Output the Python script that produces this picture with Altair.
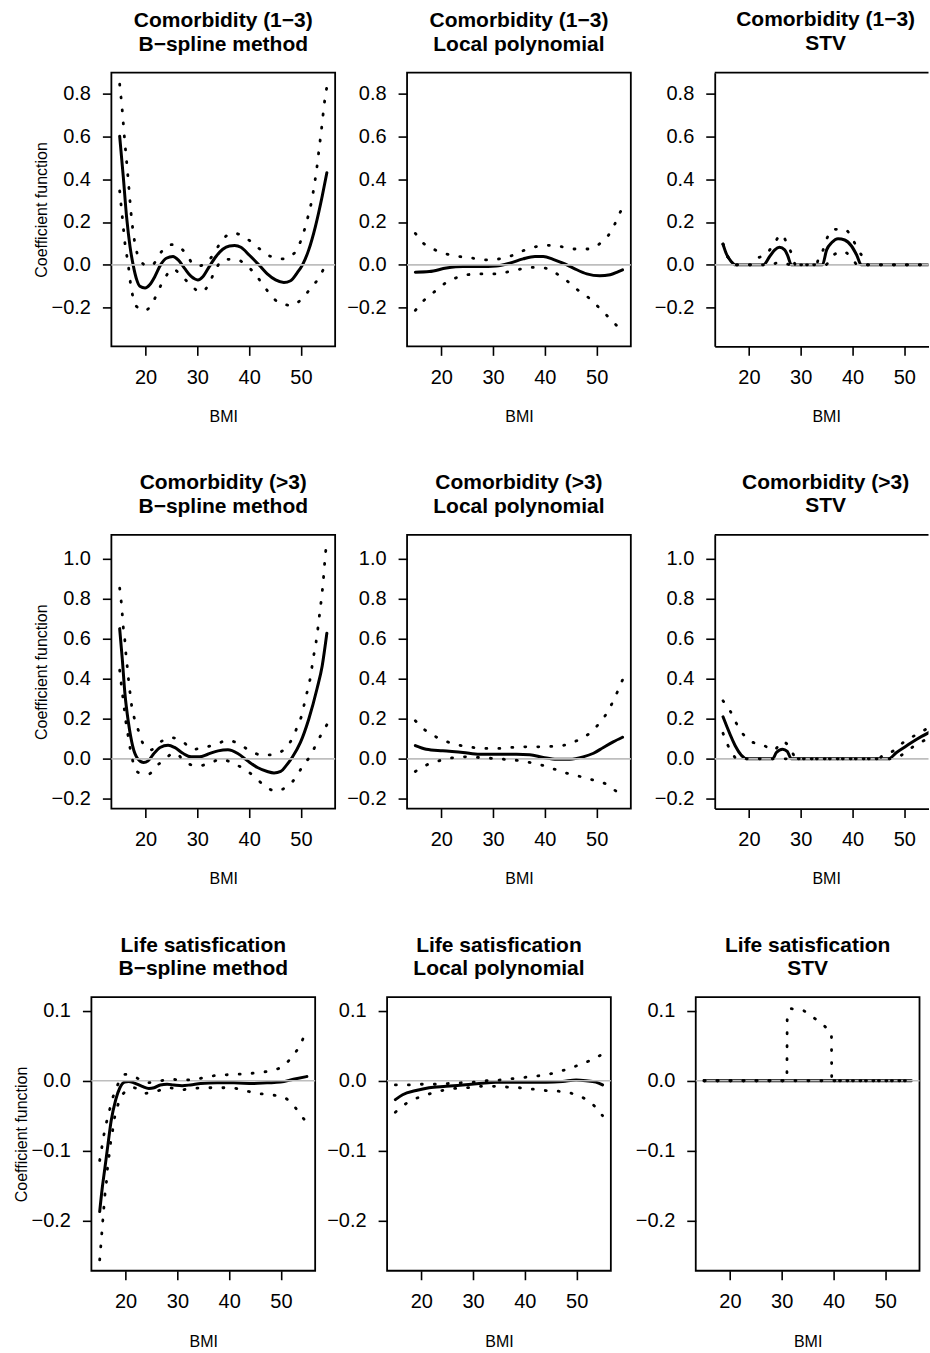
import altair as alt
import pandas as pd

FONT = "Liberation Sans"
M = "\u2212"

# ---------------- data (BMI, coefficient) ----------------
# Row 1: Comorbidity (1-3)
C13_BS_EST = [(15.0, 0.60), (15.7, 0.41), (16.35, 0.22), (17.0, 0.085), (17.6, 0.0), (18.3, -0.07), (18.9, -0.10),
              (19.9, -0.108), (20.8, -0.093), (21.8, -0.054), (22.9, 0.0), (24.0, 0.031), (25.3, 0.039), (26.3, 0.023),
              (27.5, -0.015), (28.8, -0.054), (30.1, -0.07), (31.1, -0.054), (32.3, -0.008), (33.6, 0.039),
              (34.9, 0.073), (36.2, 0.088), (37.2, 0.09), (38.4, 0.082), (40.0, 0.046), (42.0, -0.003),
              (43.5, -0.042), (45.1, -0.07), (46.7, -0.082), (48.0, -0.074), (49.3, -0.036), (50.3, 0.0),
              (51.5, 0.07), (52.8, 0.18), (54.1, 0.32), (55.0, 0.43)]
C13_BS_HI = [(15.0, 0.843), (15.5, 0.72), (15.9, 0.60), (16.35, 0.48), (16.75, 0.37), (17.2, 0.24), (17.75, 0.13),
             (18.2, 0.07), (18.8, 0.03), (19.6, 0.003), (20.5, -0.005), (21.5, 0.003), (22.6, 0.046), (24.2, 0.088),
             (25.3, 0.095), (26.4, 0.085), (28.0, 0.046), (29.3, 0.0), (30.3, -0.004), (31.4, 0.003), (33.0, 0.046),
             (34.3, 0.097), (36.0, 0.142), (37.1, 0.148), (38.1, 0.142), (40.2, 0.111), (42.1, 0.073), (44.2, 0.039),
             (46.6, 0.028), (48.7, 0.054), (49.9, 0.108), (50.7, 0.166), (51.35, 0.224), (52.0, 0.29), (52.5, 0.36),
             (53.0, 0.44), (53.5, 0.54), (54.0, 0.64), (54.5, 0.75), (55.0, 0.83)]
C13_BS_LO = [(15.0, 0.345), (15.5, 0.225), (16.0, 0.105), (16.7, -0.008), (17.0, -0.07), (17.4, -0.13), (18.1, -0.19),
             (19.9, -0.213), (21.5, -0.17), (22.6, -0.113), (23.7, -0.062), (25.3, -0.02), (26.9, -0.05),
             (28.7, -0.093), (30.6, -0.127), (32.35, -0.085), (33.3, -0.031), (35.4, 0.026), (37.3, 0.026),
             (39.4, 0.0), (41.1, -0.042), (42.6, -0.09), (44.1, -0.139), (45.9, -0.178), (48.2, -0.189),
             (50.3, -0.155), (51.9, -0.108), (53.5, -0.059), (54.6, -0.008), (55.0, 0.01)]

C13_LP_EST = [(15.0, -0.034), (17.7, -0.031), (21.0, -0.015), (24.2, -0.008), (27.4, -0.008), (30.6, -0.005),
              (33.2, 0.008), (35.8, 0.028), (38.1, 0.039), (39.7, 0.039), (41.6, 0.026), (43.5, 0.008),
              (45.5, -0.015), (48.1, -0.042), (50.6, -0.051), (52.6, -0.046), (54.2, -0.031), (55.0, -0.023)]
C13_LP_HI = [(15.0, 0.147), (16.6, 0.10), (18.8, 0.07), (21.1, 0.05), (23.5, 0.039), (26.1, 0.031), (28.6, 0.023),
             (31.2, 0.028), (33.5, 0.042), (35.9, 0.067), (38.3, 0.085), (40.7, 0.091), (43.2, 0.085), (45.7, 0.074),
             (48.2, 0.074), (50.5, 0.097), (52.3, 0.139), (53.5, 0.19), (54.6, 0.248), (55.0, 0.265)]
C13_LP_LO = [(15.0, -0.212), (16.6, -0.167), (18.6, -0.127), (20.5, -0.09), (22.7, -0.062), (25.0, -0.046),
             (27.5, -0.042), (30.1, -0.042), (32.6, -0.034), (35.2, -0.02), (37.6, -0.012), (40.0, -0.015),
             (42.4, -0.043), (44.4, -0.077), (46.3, -0.116), (48.4, -0.152), (50.2, -0.193), (51.9, -0.234),
             (53.7, -0.279), (55.0, -0.31)]

C13_STV_EST = [(15.0, 0.097), (15.6, 0.054), (16.6, 0.015), (17.4, 0.0), (22.8, 0.0), (24.0, 0.039), (25.0, 0.07),
               (25.9, 0.082), (26.9, 0.07), (27.5, 0.042), (28.2, 0.0), (34.2, 0.0), (35.0, 0.07), (36.0, 0.104),
               (37.2, 0.122), (38.5, 0.116), (39.8, 0.088), (40.8, 0.046), (41.7, 0.0), (55.0, 0.0)]
C13_STV_HI = [(15.0, 0.097), (15.6, 0.054), (16.6, 0.015), (17.4, 0.0), (20.5, 0.0), (21.4, 0.026), (23.4, 0.051),
              (24.8, 0.097), (26.3, 0.142), (27.4, 0.096), (28.4, 0.042), (29.0, 0.0), (33.0, 0.0), (33.4, 0.026),
              (34.2, 0.062), (35.0, 0.12), (36.3, 0.166), (38.5, 0.166), (40.0, 0.12), (41.1, 0.07), (42.3, 0.026),
              (43.0, 0.0), (55.0, 0.0)]
C13_STV_LO = [(15.0, 0.097), (15.6, 0.054), (16.6, 0.015), (17.4, 0.0), (24.6, 0.0), (25.2, 0.008), (26.5, 0.01),
              (27.5, 0.003), (28.0, 0.0), (34.8, 0.0), (36.1, 0.042), (38.3, 0.062), (40.1, 0.023), (41.0, 0.0),
              (55.0, 0.0)]

# Row 2: Comorbidity (>3)
C3_BS_EST = [(15.0, 0.65), (15.5, 0.50), (16.0, 0.33), (16.7, 0.18), (17.5, 0.065), (18.5, 0.0), (19.6, -0.018),
             (20.5, -0.01), (21.5, 0.023), (22.8, 0.057), (24.35, 0.068), (25.6, 0.057), (27.2, 0.028), (28.8, 0.01),
             (30.4, 0.01), (32.0, 0.023), (34.0, 0.04), (35.9, 0.045), (37.8, 0.027), (39.7, -0.01), (41.6, -0.043),
             (43.5, -0.063), (44.8, -0.07), (46.1, -0.063), (47.1, -0.035), (48.3, 0.007), (49.9, 0.082),
             (51.5, 0.198), (53.1, 0.35), (54.1, 0.464), (55.0, 0.627)]
C3_BS_HI = [(15.0, 0.852), (15.3, 0.785), (15.5, 0.722), (15.7, 0.656), (16.0, 0.592), (16.2, 0.527), (16.45, 0.464),
            (16.7, 0.398), (17.0, 0.331), (17.3, 0.268), (17.8, 0.206), (18.6, 0.143), (19.4, 0.082), (21.0, 0.045),
            (22.9, 0.085), (25.0, 0.106), (27.2, 0.085), (29.15, 0.048), (31.4, 0.057), (33.6, 0.073), (35.9, 0.093),
            (38.1, 0.073), (40.2, 0.04), (42.6, 0.018), (44.95, 0.023), (47.1, 0.057), (48.5, 0.11), (49.4, 0.168),
            (50.3, 0.231), (50.8, 0.294), (51.35, 0.35), (51.9, 0.418), (52.3, 0.49), (52.7, 0.55), (53.1, 0.614),
            (53.4, 0.68), (53.7, 0.744), (54.0, 0.81), (54.25, 0.872), (54.45, 0.935), (54.65, 1.0), (54.9, 1.067),
            (55.0, 1.09)]
C3_BS_LO = [(15.0, 0.443), (15.3, 0.376), (15.6, 0.311), (15.9, 0.248), (16.2, 0.185), (16.6, 0.12), (17.0, 0.055),
            (17.5, -0.007), (18.6, -0.068), (20.5, -0.077), (22.3, -0.032), (24.2, 0.01), (25.6, 0.03),
            (27.8, -0.018), (30.0, -0.035), (32.3, -0.023), (34.5, -0.002), (36.9, -0.022), (39.1, -0.052),
            (41.1, -0.09), (43.0, -0.135), (45.1, -0.16), (47.3, -0.138), (49.1, -0.09), (50.4, -0.032),
            (51.9, 0.018), (53.0, 0.077), (54.2, 0.135), (55.0, 0.17)]

C3_LP_EST = [(15.0, 0.066), (17.1, 0.048), (20.3, 0.04), (24.2, 0.032), (27.4, 0.023), (30.6, 0.023), (34.5, 0.023),
             (37.1, 0.02), (39.7, 0.007), (42.3, -0.002), (44.8, -0.002), (47.4, 0.01), (49.4, 0.028), (51.3, 0.057),
             (53.2, 0.085), (55.0, 0.108)]
C3_LP_HI = [(15.0, 0.19), (16.8, 0.145), (18.9, 0.111), (21.2, 0.085), (23.5, 0.068), (26.1, 0.057), (28.7, 0.052),
            (31.2, 0.052), (33.7, 0.057), (36.1, 0.06), (38.7, 0.06), (41.2, 0.062), (43.7, 0.068), (46.1, 0.09),
            (48.3, 0.121), (50.1, 0.165), (51.7, 0.218), (52.9, 0.273), (54.0, 0.334), (55.0, 0.394)]
C3_LP_LO = [(15.0, -0.063), (17.2, -0.03), (19.5, -0.01), (22.1, 0.005), (24.5, 0.01), (27.1, 0.007), (29.5, 0.003),
            (32.1, -0.002), (34.5, -0.007), (37.1, -0.018), (39.5, -0.032), (41.9, -0.052), (44.3, -0.072),
            (46.8, -0.088), (49.2, -0.105), (51.6, -0.123), (53.7, -0.16), (55.0, -0.18)]

C3_STV_EST = [(15.0, 0.21), (19.7, 0.0), (24.6, 0.0), (25.3, 0.032), (26.5, 0.048), (27.4, 0.037), (28.2, 0.0),
              (46.9, 0.0), (48.5, 0.032), (50.45, 0.065), (52.4, 0.098), (55.0, 0.135)]
C3_STV_HI = [(15.0, 0.29), (16.45, 0.236), (17.5, 0.181), (18.8, 0.126), (20.6, 0.085), (22.8, 0.068), (24.8, 0.043),
             (26.5, 0.087), (28.0, 0.052), (29.2, 0.0), (45.0, 0.0), (45.8, 0.017), (47.9, 0.04), (49.8, 0.082),
             (51.9, 0.115), (54.0, 0.145), (55.0, 0.16)]
C3_STV_LO = [(15.0, 0.128), (15.9, 0.07), (17.1, 0.015), (17.6, 0.0), (47.5, 0.0), (49.4, 0.018), (51.5, 0.057),
             (53.7, 0.09), (55.0, 0.105)]

# Row 3: Life satisfication
LS_BS_EST = [(15.0, -0.187), (15.5, -0.153), (16.0, -0.125), (16.6, -0.091), (17.2, -0.058), (18.1, -0.027),
             (18.9, -0.010), (19.8, -0.002), (20.6, -0.001), (21.6, -0.003), (23.2, -0.008), (24.5, -0.011),
             (25.5, -0.01), (26.7, -0.006), (28.0, -0.005), (29.3, -0.006), (30.9, -0.007), (32.5, -0.006),
             (34.5, -0.004), (37.7, -0.003), (40.9, -0.003), (44.7, -0.004), (47.3, -0.003), (49.9, -0.002),
             (52.4, 0.002), (55.0, 0.006)]
LS_BS_HI = [(15.0, -0.114), (15.4, -0.096), (15.8, -0.078), (16.3, -0.06), (16.9, -0.042), (17.5, -0.025),
            (18.4, -0.007), (19.9, 0.009), (21.9, 0.005), (24.0, -0.003), (26.1, -0.001), (28.7, 0.002),
            (31.1, 0.001), (33.5, 0.002), (35.9, 0.006), (38.4, 0.008), (40.9, 0.009), (43.4, 0.01), (45.9, 0.012),
            (48.5, 0.015), (50.6, 0.022), (52.3, 0.036), (53.7, 0.051), (54.7, 0.068), (55.0, 0.073)]
LS_BS_LO = [(15.0, -0.256), (15.2, -0.238), (15.4, -0.219), (15.6, -0.2), (15.8, -0.182), (16.0, -0.164),
            (16.3, -0.145), (16.5, -0.126), (16.8, -0.108), (17.1, -0.089), (17.5, -0.071), (17.9, -0.052),
            (18.5, -0.035), (19.6, -0.018), (21.6, -0.010), (23.7, -0.018), (26.0, -0.015), (28.3, -0.010),
            (30.6, -0.013), (33.0, -0.011), (35.4, -0.01), (38.0, -0.010), (40.4, -0.010), (42.9, -0.014),
            (45.4, -0.018), (47.8, -0.02), (50.3, -0.023), (52.3, -0.034), (53.8, -0.049), (55.0, -0.06)]

LS_LP_EST = [(15.0, -0.027), (16.4, -0.02), (19.0, -0.014), (21.5, -0.010), (24.8, -0.008), (28.0, -0.006),
             (31.2, -0.004), (34.4, -0.002), (37.6, -0.002), (40.9, -0.002), (44.1, -0.002), (47.3, -0.001),
             (49.9, 0.001), (51.8, 0.0), (53.7, -0.002), (55.0, -0.006)]
LS_LP_HI = [(15.0, -0.006), (17.6, -0.006), (20.1, -0.005), (22.6, -0.005), (25.1, -0.004), (27.5, -0.003),
            (30.0, -0.002), (32.6, 0.0), (35.1, 0.001), (37.6, 0.003), (40.1, 0.005), (42.6, 0.007), (45.0, 0.01),
            (47.5, 0.015), (49.9, 0.021), (52.3, 0.028), (54.5, 0.036), (55.0, 0.038)]
LS_LP_LO = [(15.0, -0.045), (17.0, -0.033), (19.1, -0.025), (21.5, -0.019), (24.0, -0.014), (26.5, -0.011),
            (28.9, -0.01), (31.4, -0.008), (34.0, -0.008), (36.5, -0.009), (38.9, -0.010), (41.5, -0.012),
            (44.0, -0.014), (46.5, -0.015), (49.0, -0.018), (51.4, -0.025), (53.4, -0.036), (55.0, -0.05)]

LS_STV_EST = [(15.0, 0.0), (55.0, 0.0)]
LS_STV_HI = [(15.0, 0.0), (31.0, 0.0), (31.05, 0.087), (31.8, 0.103), (34.1, 0.101), (36.0, 0.091), (38.0, 0.08),
             (39.6, 0.068), (39.65, 0.0), (55.0, 0.0)]
LS_STV_LO = [(15.0, 0.0), (55.0, 0.0)]

# axis settings per row
ROW1_Y = [-0.380, 0.8965]
ROW2_Y = [-0.248, 1.118]
ROW3_Y = [-0.2716, 0.1196]
ROW1_TICKS = [-0.2, 0.0, 0.2, 0.4, 0.6, 0.8]
ROW2_TICKS = [-0.2, 0.0, 0.2, 0.4, 0.6, 0.8, 1.0]
ROW3_TICKS = [-0.2, -0.1, 0.0, 0.1]
X_TICKS = [20, 30, 40, 50]
X_DOMAIN = [13.4, 56.6]
X_DOMAIN_CUT = [13.4, 54.67]

W, H = 224, 274
W_CUT = 214


def frame(pairs, series):
    return pd.DataFrame({"bmi": [p[0] for p in pairs], "coef": [p[1] for p in pairs],
                         "series": series, "order": list(range(len(pairs)))})


def panel(lines, est, lo, hi, ydom, yticks, ytitle=False, cut=False, interp="monotone"):
    xdom = X_DOMAIN_CUT if cut else X_DOMAIN
    width = W_CUT if cut else W
    xs = alt.Scale(domain=xdom, nice=False, zero=False)
    ys = alt.Scale(domain=ydom, nice=False, zero=False)
    xaxis_kw = dict(values=X_TICKS, title="BMI", format="d")
    yaxis_kw = dict(values=yticks, format=".1f")
    if cut:
        xaxis_kw.update(domain=True, titleX=111.5)
        yaxis_kw.update(domain=True)
    yaxis_kw["title"] = "Coefficient function" if ytitle else None
    x_enc = alt.X("bmi:Q", scale=xs, axis=alt.Axis(**xaxis_kw))
    y_enc = alt.Y("coef:Q", scale=ys, axis=alt.Axis(**yaxis_kw))

    est_df = frame(est, "est")
    ci_df = pd.concat([frame(lo, "lo"), frame(hi, "hi")], ignore_index=True)
    zero_df = pd.DataFrame({"coef": [0.0]})

    solid = alt.Chart(est_df).mark_line(color="black", strokeWidth=3, interpolate=interp, clip=True,
                                        strokeCap="round").encode(x=x_enc, y=y_enc, order="order:Q")
    zero = alt.Chart(zero_df).mark_rule(color="#BEBEBE", strokeWidth=1.6).encode(y=y_enc)
    dots = alt.Chart(ci_df).mark_line(color="black", strokeWidth=2.8, strokeDash=[1, 12], strokeCap="round",
                                      interpolate=interp, clip=True).encode(
        x=x_enc, y=y_enc, detail="series:N", order="order:Q")
    layers = [solid, zero, dots]
    if cut:
        # top edge of the (cut-off) frame, at the upper limit of the y range
        top_df = pd.DataFrame({"coef": [ydom[1]]})
        layers.append(alt.Chart(top_df).mark_rule(color="black", strokeWidth=1.8).encode(y=y_enc))
    title = alt.TitleParams(text=lines, fontSize=21, font=FONT, fontWeight="bold", color="black", offset=18,
                            lineHeight=23.5, anchor="middle", frame="group", dx=4 if cut else 0)
    props = dict(width=width, height=H, title=title)
    if cut:
        props["view"] = alt.ViewBackground(strokeOpacity=0)
    return alt.layer(*layers).properties(**props)


def spacer(w):
    return alt.Chart(pd.DataFrame({"a": [0]})).mark_point(opacity=0).properties(
        width=w, height=1, view=alt.ViewBackground(strokeOpacity=0))


T1 = f"Comorbidity (1{M}3)"
T2 = "Comorbidity (>3)"
T3 = "Life satisfication"
BS = f"B{M}spline method"
LP = "Local polynomial"
ST = "STV"

GAP12 = 8
GAP23 = 21


def row(lead, p1, p2, p3):
    return alt.hconcat(
        spacer(1),
        alt.hconcat(alt.hconcat(p1, p2, spacing=GAP12), p3, spacing=GAP23),
        spacing=lead)


row1 = row(25.5,
           panel([T1, BS], C13_BS_EST, C13_BS_LO, C13_BS_HI, ROW1_Y, ROW1_TICKS, ytitle=True),
           panel([T1, LP], C13_LP_EST, C13_LP_LO, C13_LP_HI, ROW1_Y, ROW1_TICKS),
           panel([T1, ST], C13_STV_EST, C13_STV_LO, C13_STV_HI, ROW1_Y, ROW1_TICKS, cut=True))

row2 = row(25.5,
           panel([T2, BS], C3_BS_EST, C3_BS_LO, C3_BS_HI, ROW2_Y, ROW2_TICKS, ytitle=True),
           panel([T2, LP], C3_LP_EST, C3_LP_LO, C3_LP_HI, ROW2_Y, ROW2_TICKS),
           panel([T2, ST], C3_STV_EST, C3_STV_LO, C3_STV_HI, ROW2_Y, ROW2_TICKS, cut=True))

row3 = row(5.5,
           panel([T3, BS], LS_BS_EST, LS_BS_LO, LS_BS_HI, ROW3_Y, ROW3_TICKS, ytitle=True),
           panel([T3, LP], LS_LP_EST, LS_LP_LO, LS_LP_HI, ROW3_Y, ROW3_TICKS),
           panel([T3, ST], LS_STV_EST, LS_STV_LO, LS_STV_HI, ROW3_Y, ROW3_TICKS, interp="linear"))

chart = alt.vconcat(row1, row2, row3, spacing=44.7).properties(
    padding={"left": 0, "top": 8, "right": 0, "bottom": 0}
).configure(background="white").configure_view(
    stroke="black", strokeWidth=1.8
).configure_axis(
    labelFont=FONT, labelFontSize=20, labelColor="black",
    titleFont=FONT, titleFontSize=16, titleFontWeight="normal", titleColor="black",
    tickColor="black", tickWidth=1.6, tickSize=9, grid=False, domain=False,
    domainColor="black", domainWidth=1.8, labelOverlap=False, labelFlush=False
).configure_axisX(labelPadding=12, titlePadding=21.5).configure_axisY(labelPadding=12, titlePadding=1)

chart.save("out.html", embed_options={"renderer": "svg", "actions": False})
